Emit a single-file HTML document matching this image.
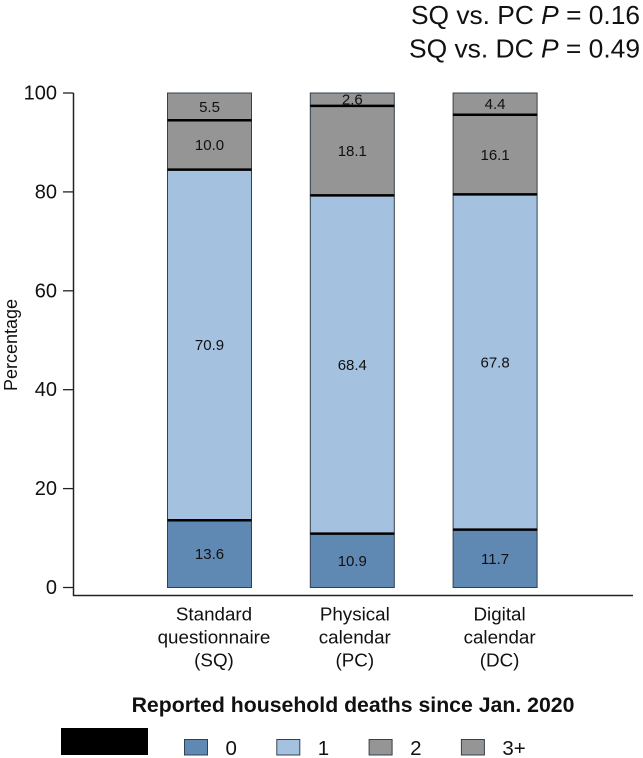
<!DOCTYPE html>
<html>
<head>
<meta charset="utf-8">
<style>
html,body{margin:0;padding:0;background:#fff;}
svg{display:block;font-family:"Liberation Sans",Arial,sans-serif;fill:#111;}
</style>
</head>
<body>
<svg id="chart" width="643" height="758" viewBox="0 0 643 758" xmlns="http://www.w3.org/2000/svg">
<g font-size="26" text-anchor="end">
<text x="640" y="24" textLength="229" lengthAdjust="spacingAndGlyphs">SQ vs. PC <tspan font-style="italic">P</tspan> = 0.16</text>
<text x="640" y="57.5" textLength="231" lengthAdjust="spacingAndGlyphs">SQ vs. DC <tspan font-style="italic">P</tspan> = 0.49</text>
</g>
<text font-size="18" text-anchor="middle" transform="translate(17 345) rotate(-90)">Percentage</text>
<line x1="73.5" y1="93" x2="73.5" y2="596" stroke="#222" stroke-width="1.5"/>
<line x1="73" y1="595.5" x2="633" y2="595.5" stroke="#222" stroke-width="1.5"/>
<text x="353" y="712" font-size="21.25" font-weight="bold" text-anchor="middle">Reported household deaths since Jan. 2020</text>
<rect x="61" y="728" width="87" height="27" fill="#000"/>
<g id="marks"></g>
</svg>
<script>
var categories = [["Standard","questionnaire","(SQ)"],["Physical","calendar","(PC)"],["Digital","calendar","(DC)"]];
var categoryKeys = ["sq","pc","dc"];
var seriesNames = ["0","1","2","3+"];
var seriesColors = ["#5f88b2","#a4c1e0","#959595","#959595"];
var series0 = [13.6,10.9,11.7];
var series1 = [70.9,68.4,67.8];
var series2 = [10.0,18.1,16.1];
var series3 = [5.5,2.6,4.4];
var yTicks = [0,20,40,60,80,100];

var allSeries = [series0,series1,series2,series3];
var NS = "http://www.w3.org/2000/svg";
var marks = document.getElementById("marks");
function yScale(v){ return 587.5 - v * 4.945; }
function bandCenter(i){ return 209.5 + i * 142.8; }
function labelCenter(i){ return bandCenter(i) + (i === 1 ? 2.5 : 4.5); }
var BAR_W = 84;
function make(tag, attrs, text){
  var el = document.createElementNS(NS, tag);
  for (var k in attrs) el.setAttribute(k, attrs[k]);
  if (text !== undefined) el.textContent = text;
  marks.appendChild(el);
  return el;
}
yTicks.forEach(function(t){
  var y = yScale(t);
  var tick = make("line",{x1:63,y1:y,x2:73.5,y2:y,stroke:"#222","stroke-width":1.3});
  
  
  var lab = make("text",{x:57,y:y+6.5,"font-size":20,"text-anchor":"end"},String(t));
  
  
});
categories.forEach(function(lines,i){
  var cx = bandCenter(i), base = 0;
  allSeries.forEach(function(vals,s){
    var v = vals[i];
    var yTop = yScale(base + v), yBot = yScale(base);
    var bar = make("rect",{x:cx-BAR_W/2,y:yTop,width:BAR_W,height:yBot-yTop,fill:seriesColors[s],stroke:"#33404d","stroke-width":1});
    
    
    base += v;
  });
  base = 0;
  allSeries.forEach(function(vals,s){
    var v = vals[i];
    var yTop = yScale(base + v), yBot = yScale(base);
    if (s < allSeries.length - 1) {
      var sep = make("line",{x1:cx-BAR_W/2,y1:yTop,x2:cx+BAR_W/2,y2:yTop,stroke:"#000","stroke-width":2.5});
      
      
    }
    var val = make("text",{x:cx,y:(yTop+yBot)/2+5.3,"font-size":15,"text-anchor":"middle"},v.toFixed(1));
    
    
    base += v;
  });
  lines.forEach(function(line,j){
    var cat = make("text",{x:labelCenter(i),y:620.5+j*23,"font-size":18.8,"text-anchor":"middle"},line);
    
    
  });
});
seriesNames.forEach(function(name,i){
  var x = 184.5 + i * 92.3;
  var sw = make("rect",{x:x,y:739.5,width:23,height:15.5,fill:seriesColors[i],stroke:"#33404d","stroke-width":1});
  
  
  var lab = make("text",{x:x+41,y:755,"font-size":20.5},name);
  
  
});
</script>
</body>
</html>
